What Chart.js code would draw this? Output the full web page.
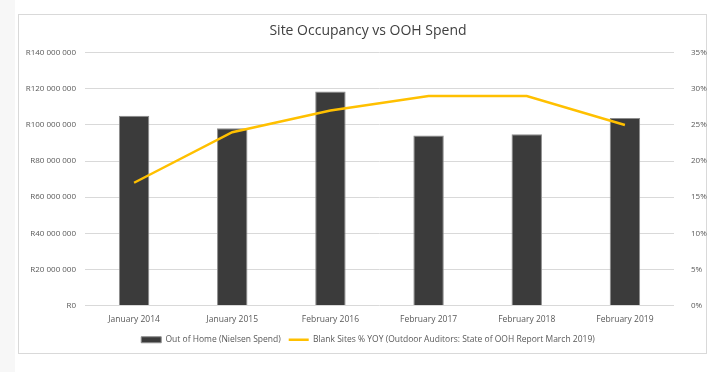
<!DOCTYPE html>
<html>
<head>
<meta charset="utf-8">
<script src="https://cdn.jsdelivr.net/npm/chart.js@4"></script>
<style>
  body { margin: 0; background: #fff; }
  #wrap { position: relative; width: 716px; height: 372px; background: linear-gradient(to right, #f7f7f7 0, #f7f7f7 15px, #fff 15px); }
  #frame { position: absolute; left: 18px; top: 14px; width: 687px; height: 338px; border: 1px solid #d9d9d9; background: #fff; }
  canvas { position: absolute; left: 0; top: 0; }
</style>
</head>
<body>
<div id="wrap">
  <div id="frame"></div>
  <canvas id="chart" width="716" height="372"></canvas>
</div>
<script>
const months = ['January 2014', 'January 2015', 'February 2016', 'February 2017', 'February 2018', 'February 2019'];
const oohSpend = [105100000, 98200000, 118600000, 94200000, 94900000, 103900000];
const blankSites = [17, 24, 27, 29, 29, 25];
const spendMax = 140000000;
const spendStep = 20000000;
const pctMax = 35;
const pctStep = 5;

const tickColor = '#595959';
const fontFamily = '"Open Sans", "Liberation Sans", sans-serif';

function formatRand(v) {
  return 'R' + String(v).replace(/\B(?=(\d{3})+(?!\d))/g, ' ');
}

const ctx = document.getElementById('chart');
const myChart = new Chart(ctx, {
  data: {
    labels: months,
    datasets: [
      {
        type: 'bar',
        label: 'Out of Home (Nielsen Spend)',
        data: oohSpend,
        backgroundColor: '#3b3b3b',
        borderColor: '#8c8c8c',
        borderWidth: 1,
        barPercentage: 0.31,
        categoryPercentage: 1,
        pointStyle: 'rect',
        yAxisID: 'y',
        order: 2
      },
      {
        type: 'line',
        label: 'Blank Sites % YOY (Outdoor Auditors: State of OOH Report March 2019)',
        data: blankSites,
        borderColor: '#ffc000',
        backgroundColor: '#ffc000',
        borderWidth: 2.5,
        pointRadius: 0,
        tension: 0,
        pointStyle: 'line',
        yAxisID: 'y1',
        order: 1
      }
    ]
  },
  options: {
    responsive: false,
    animation: false,
    layout: {
      padding: { left: 24, right: 4, top: 23, bottom: 18 }
    },
    plugins: {
      title: {
        display: true,
        text: 'Site Occupancy vs OOH Spend',
        color: '#404040',
        font: { family: fontFamily, size: 14, weight: 'normal' },
        padding: { top: 0, bottom: 13 }
      },
      legend: {
        position: 'bottom',
        labels: {
          usePointStyle: true,
          pointStyleWidth: 20,
          boxHeight: 6,
          padding: 8,
          color: tickColor,
          font: { family: fontFamily, size: 8.5 },
          sort: function(a, b) { return a.datasetIndex - b.datasetIndex; }
        }
      },
      tooltip: { enabled: false }
    },
    scales: {
      x: {
        grid: { display: false },
        border: { display: false },
        ticks: {
          color: tickColor,
          font: { family: fontFamily, size: 8.5 },
          maxRotation: 0,
          padding: 1
        },
        afterFit: function(scale) { scale.height = 22; }
      },
      y: {
        type: 'linear',
        position: 'left',
        min: 0,
        max: spendMax,
        grid: { color: '#d9d9d9', drawTicks: false },
        border: { display: false },
        ticks: {
          stepSize: spendStep,
          color: tickColor,
          font: { family: fontFamily, size: 8 },
          padding: 9,
          callback: function(value) { return formatRand(value); }
        },
        afterFit: function(scale) { scale.width = 61; }
      },
      y1: {
        type: 'linear',
        position: 'right',
        min: 0,
        max: pctMax,
        grid: { display: false },
        border: { display: false },
        ticks: {
          stepSize: pctStep,
          color: tickColor,
          font: { family: fontFamily, size: 8 },
          padding: 9,
          callback: function(value) { return value + '%'; }
        },
        afterFit: function(scale) { scale.width = 38; }
      }
    }
  }
});
</script>
</body>
</html>
